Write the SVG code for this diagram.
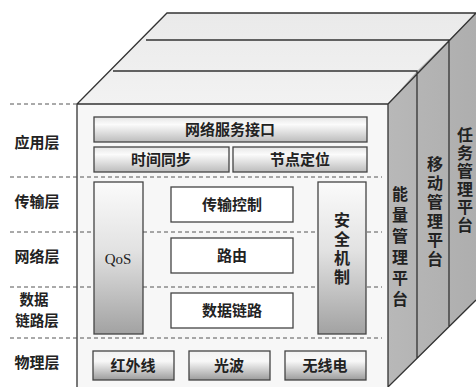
<svg xmlns="http://www.w3.org/2000/svg" width="476" height="387" viewBox="0 0 476 387">
<defs>
<linearGradient id="gTop" x1="0" y1="0" x2="0" y2="1">
<stop offset="0" stop-color="#e6e6e6"/><stop offset="0.3" stop-color="#fbfbfb"/><stop offset="1" stop-color="#bcbcbc"/>
</linearGradient>
<linearGradient id="gCol" x1="0" y1="0" x2="0" y2="1">
<stop offset="0" stop-color="#fbfbfb"/><stop offset="0.45" stop-color="#e2e2e2"/><stop offset="1" stop-color="#a2a2a2"/>
</linearGradient>
<linearGradient id="gBot" x1="0" y1="0" x2="0" y2="1">
<stop offset="0" stop-color="#f2f2f2"/><stop offset="0.35" stop-color="#f8f8f8"/><stop offset="1" stop-color="#9c9c9c"/>
</linearGradient>
<linearGradient id="gRoof" x1="0" y1="0" x2="0" y2="1">
<stop offset="0" stop-color="#eaeaea"/><stop offset="1" stop-color="#f2f2f2"/>
</linearGradient>
<linearGradient id="gSide" x1="0" y1="0" x2="1" y2="0">
<stop offset="0" stop-color="#b8b8b8"/><stop offset="1" stop-color="#aeaeae"/>
</linearGradient>
</defs>
<style>
.edge{fill:none;stroke:#333;stroke-width:1.3}
.dash{fill:none;stroke:#555;stroke-width:1;stroke-dasharray:4 3}
.box{stroke:#444;stroke-width:1.3}
.w{fill:#ffffff}
text{font-family:"Noto Sans CJK SC","Noto Sans",sans-serif;font-weight:bold;fill:#222;text-anchor:middle}
.lab{font-size:15px}
.lab2{font-size:14.5px}
.bx{font-size:15px}
.side{font-size:16px;font-weight:600;writing-mode:vertical-rl;text-anchor:start}
.qos{font-family:"Liberation Serif",serif;font-weight:normal;font-size:15px}
</style>
<rect x="0" y="0" width="476" height="387" fill="#ffffff"/>
<g id="cube">
<polygon points="77,104 167,13 476,13 388,104" fill="url(#gRoof)"/>
<polygon points="388,104 417,71 449,40 476,13 476,300 388,387" fill="url(#gSide)"/>
<rect x="77" y="104" width="311" height="283" fill="#f7f7f7"/>
<path class="edge" d="M77,387 L77,104 L167,13 L476,13 M77,104 L388,104 L476,13 M388,104 L388,387 L476,300 M146,40 L449,40 L449,326 M113,71 L417,71 L417,358"/>
</g>
<g id="dashes">
<path class="dash" d="M10,104 H77 M10,177 H382 M10,232 H382 M10,287 H382 M10,338 H382"/>
</g>
<g id="labels">
<text class="lab" x="37" y="148">应用层</text>
<text class="lab" x="37" y="207">传输层</text>
<text class="lab" x="37" y="262">网络层</text>
<text class="lab2" x="34" y="305">数据</text>
<text class="lab2" x="37" y="326">链路层</text>
<text class="lab" x="37" y="368">物理层</text>
</g>
<g id="n-wangluofuwu"><rect class="box" x="94" y="117" width="273" height="25" fill="url(#gTop)"/><text class="bx" x="230" y="135">网络服务接口</text></g>
<g id="n-shijian"><rect class="box" x="94" y="147" width="135" height="25" fill="url(#gTop)"/><text class="bx" x="161" y="165">时间同步</text></g>
<g id="n-jiedian"><rect class="box" x="233" y="147" width="134" height="25" fill="url(#gTop)"/><text class="bx" x="300" y="165">节点定位</text></g>
<g id="n-qos"><rect class="box" x="94" y="182" width="49" height="152" fill="url(#gCol)"/><text class="qos" x="118" y="264">QoS</text></g>
<g id="n-chuanshu"><rect class="box w" x="171" y="187" width="122" height="35"/><text class="bx" x="232" y="210">传输控制</text></g>
<g id="n-luyou"><rect class="box w" x="171" y="238" width="122" height="35"/><text class="bx" x="232" y="261">路由</text></g>
<g id="n-shujulianlu"><rect class="box w" x="171" y="293" width="122" height="35"/><text class="bx" x="232" y="316">数据链路</text></g>
<g id="n-anquan"><rect class="box" x="318" y="182" width="48" height="152" fill="url(#gCol)"/>
<text class="side" x="342" y="212" letter-spacing="3">安全机制</text></g>
<g id="n-hongwai"><rect class="box" x="93" y="351" width="81" height="29" fill="url(#gBot)"/><text class="bx" x="133" y="371">红外线</text></g>
<g id="n-guangbo"><rect class="box" x="189" y="351" width="81" height="29" fill="url(#gBot)"/><text class="bx" x="229" y="371">光波</text></g>
<g id="n-wuxian"><rect class="box" x="285" y="351" width="81" height="29" fill="url(#gBot)"/><text class="bx" x="325" y="371">无线电</text></g>
<g id="n-nengliang"><text class="side" x="400" y="186" letter-spacing="5">能量管理平台</text></g>
<g id="n-yidong"><text class="side" x="435" y="156" letter-spacing="3">移动管理平台</text></g>
<g id="n-renwu"><text class="side" x="465" y="127" letter-spacing="2">任务管理平台</text></g>
</svg>
